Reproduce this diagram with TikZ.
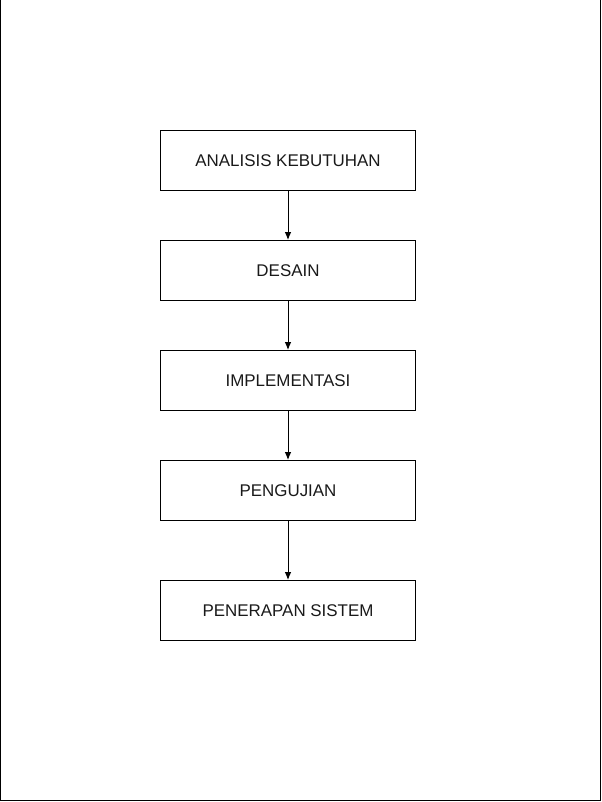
\documentclass[tikz,border=0pt]{standalone}
\usepackage{fontspec}
\setmainfont{Liberation Sans}
\usetikzlibrary{arrows.meta}
\begin{document}
\begin{tikzpicture}[x=0.75pt,y=-0.75pt,
  stepbox/.style={draw=black,line width=0.75pt,minimum width=255*0.75pt,minimum height=60*0.75pt,inner sep=0pt,font=\fontsize{12.7pt}{15pt}\selectfont,text=black!90,anchor=north west},
  flow/.style={draw=black,line width=0.75pt,-{Latex[length=6pt,width=5pt]}}]
\useasboundingbox (0,0) rectangle (601,802);
\draw[line width=0.9pt] (0.6,0) -- (0.6,800.6) -- (600.2,800.6) -- (600.2,0);
\node[stepbox] (a) at (160,130) {ANALISIS KEBUTUHAN};
\node[stepbox] (b) at (160,240) {DESAIN};
\node[stepbox] (c) at (160,350) {IMPLEMENTASI};
\node[stepbox] (d) at (160,460) {PENGUJIAN};
\node[stepbox] (e) at (160,580) {PENERAPAN SISTEM};
\draw[flow] (a) -- (b);
\draw[flow] (b) -- (c);
\draw[flow] (c) -- (d);
\draw[flow] (d) -- (e);
\end{tikzpicture}
\end{document}
